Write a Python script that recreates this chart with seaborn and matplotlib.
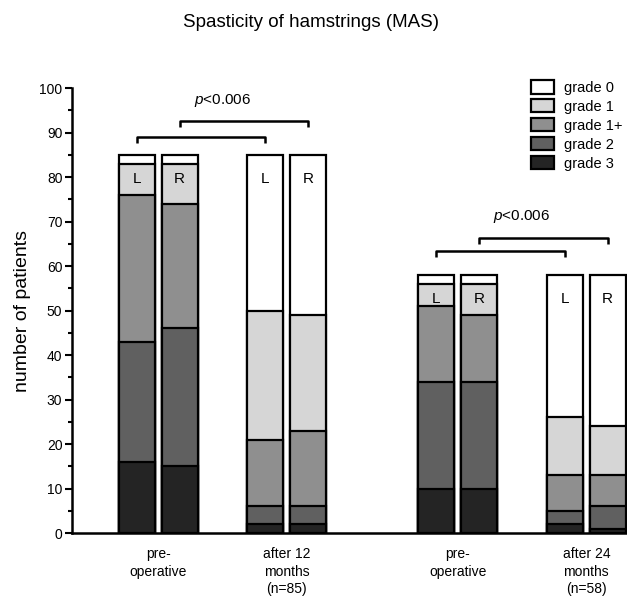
import pandas as pd
import seaborn as sns
import matplotlib.pyplot as plt
from matplotlib.patches import Patch

# bar positions (L/R per time point)
positions = [0, 1, 3, 4, 7, 8, 10, 11]
sides = ["L", "R", "L", "R", "L", "R", "L", "R"]
grades = ["grade 0", "grade 1", "grade 1+", "grade 2", "grade 3"]
colors = ["#ffffff", "#d6d6d6", "#8f8f8f", "#606060", "#242424"]

# patients per grade for each bar (grade 3 .. grade 0 from bottom)
grade3 = [16, 15, 2, 2, 10, 10, 2, 1]
grade2 = [27, 31, 4, 4, 24, 24, 3, 5]
grade1p = [33, 28, 15, 17, 17, 15, 8, 7]
grade1 = [7, 9, 29, 26, 5, 7, 13, 11]
grade0 = [2, 2, 35, 36, 2, 2, 32, 34]

group_centers = [0.5, 3.5, 7.5, 10.5]
group_labels = ["pre-\noperative", "after 12\nmonths\n(n=85)",
                "pre-\noperative", "after 24\nmonths\n(n=58)"]

sns.set_style("ticks")
plt.rcParams["font.family"] = ["Liberation Sans", "DejaVu Sans"]
plt.rcParams["mathtext.fontset"] = "custom"
plt.rcParams["mathtext.it"] = "Liberation Sans:italic"
plt.rcParams["mathtext.rm"] = "Liberation Sans"
for k in ["text.color", "axes.labelcolor", "xtick.color", "ytick.color",
          "axes.edgecolor"]:
    plt.rcParams[k] = "black"

df = pd.DataFrame({"pos": positions, "side": sides,
                   "grade 3": grade3, "grade 2": grade2, "grade 1+": grade1p,
                   "grade 1": grade1, "grade 0": grade0})
# cumulative tops, drawn from the tallest layer down
order = ["grade 3", "grade 2", "grade 1+", "grade 1", "grade 0"]
cum = df[order].cumsum(axis=1)

fig = plt.figure(figsize=(6.27, 5.97), dpi=100)
ax = fig.add_axes([0.115, 0.107, 0.885, 0.7454])

for g, c in zip(grades, colors):
    sns.barplot(x=df["pos"], y=cum[g], native_scale=True, width=0.84,
                color=c, edgecolor="black", linewidth=1.6, errorbar=None,
                saturation=1, ax=ax)

totals = cum["grade 0"]
for p, s, t in zip(positions, sides, totals):
    ax.text(p, t - 5.5, s, ha="center", va="center", fontsize=11)

# significance brackets
def bracket(x1, x2, y, h=1.35):
    ax.plot([x1, x1, x2, x2], [y - h, y, y, y - h], color="black", lw=1.8,
            solid_capstyle="butt", clip_on=False)

bracket(0, 3, 89.0)
bracket(1, 4, 92.6)
ax.text(2, 97.3, r"$p$<0.006", ha="center", va="center", fontsize=11)
bracket(7, 10, 63.3)
bracket(8, 11, 66.4)
ax.text(9, 71.2, r"$p$<0.006", ha="center", va="center", fontsize=11)

ax.set_xlim(-1.51, 11.45)
ax.set_ylim(0, 100)
ax.set_yticks(range(0, 101, 10))
ax.set_yticks(range(0, 101, 5), minor=True)
ax.tick_params(axis="y", which="major", length=5, width=1.5, labelsize=10, pad=2)
ax.tick_params(axis="y", which="minor", length=3, width=1.5)
ax.set_xticks(group_centers)
ax.set_xticklabels(group_labels, fontsize=10, linespacing=1.32)
ax.tick_params(axis="x", length=0, pad=10)
ax.set_xlabel("")
ax.set_ylabel("number of patients", fontsize=14, labelpad=6)
sns.despine(ax=ax)
for sp in ["left", "bottom"]:
    ax.spines[sp].set_linewidth(1.8)

handles = [Patch(facecolor=c, edgecolor="black", linewidth=1.6) for c in colors]
fig.legend(handles, grades, loc="upper left", bbox_to_anchor=(0.837, 0.875),
           frameon=False, fontsize=10.5, handlelength=1.6, handleheight=1.0,
           labelspacing=0.3, handletextpad=0.7, borderaxespad=0)

fig.text(0.496, 0.962, "Spasticity of hamstrings (MAS)", ha="center",
         va="center", fontsize=13.5)

fig.savefig("out.png", dpi=100)
